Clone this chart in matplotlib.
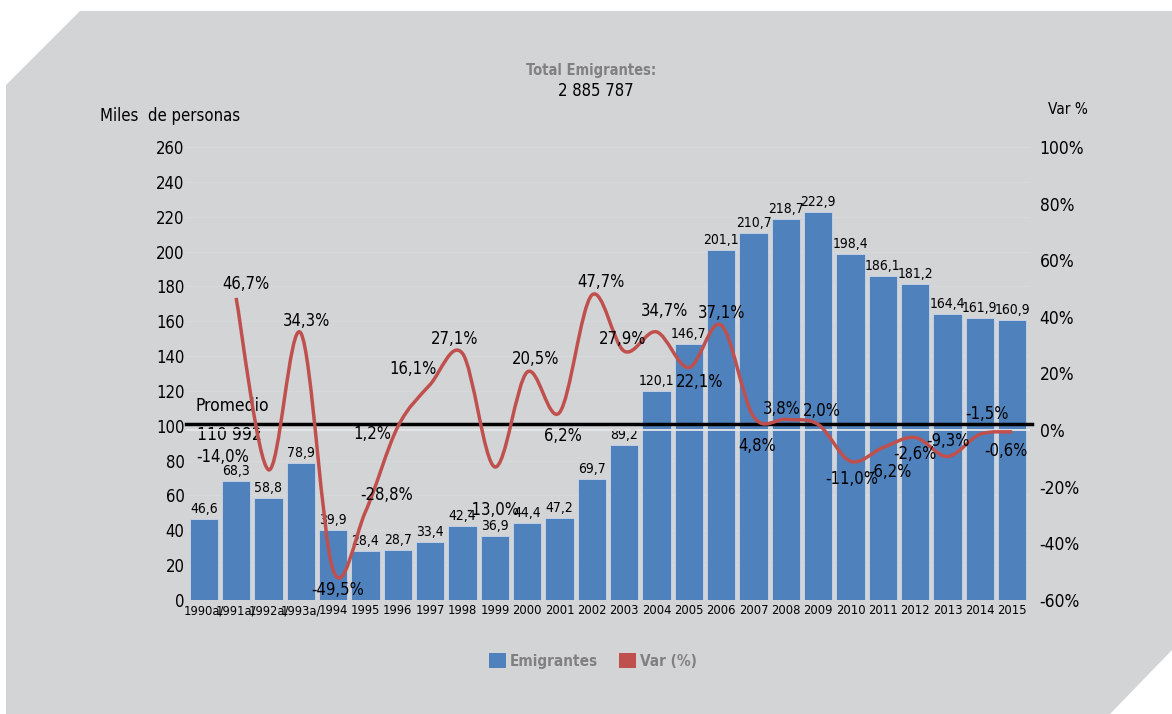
import matplotlib.pyplot as plt
import numpy as np
from matplotlib.path import Path
from matplotlib.patches import PathPatch, Polygon, Patch

# fuente estrecha parecida a la del original
plt.rcParams['font.family'] = ['DejaVu Sans']
plt.rcParams['font.stretch'] = 'condensed'

anios = ['1990a/', '1991a/', '1992a/', '1993a/', '1994', '1995', '1996', '1997',
         '1998', '1999', '2000', '2001', '2002', '2003', '2004', '2005', '2006',
         '2007', '2008', '2009', '2010', '2011', '2012', '2013', '2014', '2015']
emigrantes = [46.6, 68.3, 58.8, 78.9, 39.9, 28.4, 28.7, 33.4, 42.4, 36.9, 44.4,
              47.2, 69.7, 89.2, 120.1, 146.7, 201.1, 210.7, 218.7, 222.9, 198.4,
              186.1, 181.2, 164.4, 161.9, 160.9]
# variación % desde 1991
var_pct = [46.7, -14.0, 34.3, -49.5, -28.8, 1.2, 16.1, 27.1, -13.0, 20.5, 6.2,
           47.7, 27.9, 34.7, 22.1, 37.1, 4.8, 3.8, 2.0, -11.0, -6.2, -2.6, -9.3,
           -1.5, -0.6]
# desplazamiento de las etiquetas de la línea (pixeles)
var_offsets = [(10, 14), (-46, 13), (6, 12), (5, -20), (21, 17), (-25, -7),
               (-17, 16), (-8, 14), (-2, -43), (8, 13), (3, -23), (9, 13),
               (-2, 12), (8, 21), (11, -14), (0, 12), (4, -29), (-4, 10),
               (4, 13), (1, -18), (7, -24), (0, -17), (0, 15), (7, 20), (-6, -19)]
total_emigrantes = 2885787
promedio = 110992
nivel_promedio = 101  # donde aparece la línea en el gráfico

azul = '#4F81BD'
rojo = '#C0504D'
fondo = '#D3D4D6'


def fmt(v):
    return f"{v:.1f}".replace('.', ',')


def curva_suave(xs, ys):
    # curva tipo Excel (bezier pasando por los puntos)
    pts = np.column_stack([xs, ys]).astype(float)
    n = len(pts)
    verts = [pts[0]]
    codes = [Path.MOVETO]
    for i in range(n - 1):
        p0 = pts[max(i - 1, 0)]
        p1 = pts[i]
        p2 = pts[i + 1]
        p3 = pts[min(i + 2, n - 1)]
        verts += [p1 + (p2 - p0) / 6, p2 - (p3 - p1) / 6, p2]
        codes += [Path.CURVE4] * 3
    return Path(verts, codes)


W, H = 1172, 714
fig = plt.figure(figsize=(W / 100, H / 100), dpi=100)
fig.patch.set_facecolor('white')

# fondo gris con esquinas cortadas
forma = [(80, 11), (1172, 11), (1172, 650), (1110, 714), (6, 714), (6, 85)]
fig.patches.append(Polygon([(x / W, 1 - y / H) for x, y in forma], closed=True,
                           transform=fig.transFigure, facecolor=fondo,
                           edgecolor='none', zorder=-10))

ax = fig.add_axes([186 / W, 1 - 600 / H, (1030 - 186) / W, (600 - 147) / H])
ax.set_facecolor('none')
x = np.arange(len(anios))
barras = ax.bar(x, emigrantes, width=0.88, color=azul, edgecolor='#C9D6E8',
                linewidth=0.6, zorder=2)
for xi, v in zip(x, emigrantes):
    ax.annotate(fmt(v), xy=(xi, v), xytext=(0, 3), textcoords='offset pixels',
                ha='center', va='bottom', fontsize=10, zorder=5)

ax.set_xlim(-0.55, len(anios) - 0.45)
ax.set_ylim(0, 260)
ax.set_yticks(range(0, 261, 20))
ax.set_xticks(x)
ax.set_xticklabels(anios)
ax.tick_params(axis='both', length=0)
ax.tick_params(axis='x', labelsize=9.3, pad=3)
ax.tick_params(axis='y', labelsize=12, pad=1)
ax.yaxis.grid(True, color='#D7D8DA', linewidth=0.8, zorder=0)
ax.set_axisbelow(True)
for s in ax.spines.values():
    s.set_visible(False)

ax2 = ax.twinx()
ax2.set_ylim(-60, 100)
ax2.set_yticks(range(-60, 101, 20))
ax2.set_yticklabels([f"{t}%" for t in range(-60, 101, 20)])
ax2.tick_params(axis='y', length=0, labelsize=12.5, pad=7)
for s in ax2.spines.values():
    s.set_visible(False)
ax2.axhline(0, color='#E6E7E8', linewidth=1.3, zorder=1)

# línea del promedio
ax.plot([-0.55, len(anios) - 0.4], [nivel_promedio] * 2, color='black',
        linewidth=2.5, zorder=4, clip_on=False)
ax.annotate('Promedio', xy=(0, nivel_promedio), xytext=(29, 18),
            textcoords='offset pixels', ha='center', va='center', fontsize=12.5)
ax.annotate(f"{promedio:,}".replace(',', ' '), xy=(0, nivel_promedio),
            xytext=(26, -11), textcoords='offset pixels', ha='center',
            va='center', fontsize=12.5)

xv = x[1:]
ax2.add_patch(PathPatch(curva_suave(xv, var_pct), facecolor='none',
                        edgecolor=rojo, linewidth=2.5, zorder=3))
for xi, v, (dx, dy) in zip(xv, var_pct, var_offsets):
    ax2.annotate(fmt(v) + '%', xy=(xi, v), xytext=(dx, dy),
                 textcoords='offset pixels', ha='center', va='center',
                 fontsize=12, zorder=6)

fig.text(591 / W, 1 - 71 / H, 'Total Emigrantes:', ha='center', va='center',
         fontsize=10.5, fontweight='bold', color='#808080')
fig.text(596 / W, 1 - 91 / H, f"{total_emigrantes:,}".replace(',', ' '),
         ha='center', va='center', fontsize=12)
fig.text(100 / W, 1 - 116 / H, 'Miles  de personas', ha='left', va='center',
         fontsize=12)
fig.text(1068 / W, 1 - 110 / H, 'Var %', ha='center', va='center', fontsize=11)

handles = [Patch(facecolor=azul, label='Emigrantes'),
           Patch(facecolor=rojo, label='Var (%)')]
leg = fig.legend(handles=handles, loc='center', bbox_to_anchor=(593 / W, 1 - 661 / H),
                 ncol=2, frameon=False, handlelength=1.1, handleheight=1.1,
                 handletextpad=0.25, columnspacing=1.4,
                 prop={'size': 11, 'weight': 'bold'})
for t in leg.get_texts():
    t.set_color('#808080')

fig.savefig('out.png', dpi=100)
